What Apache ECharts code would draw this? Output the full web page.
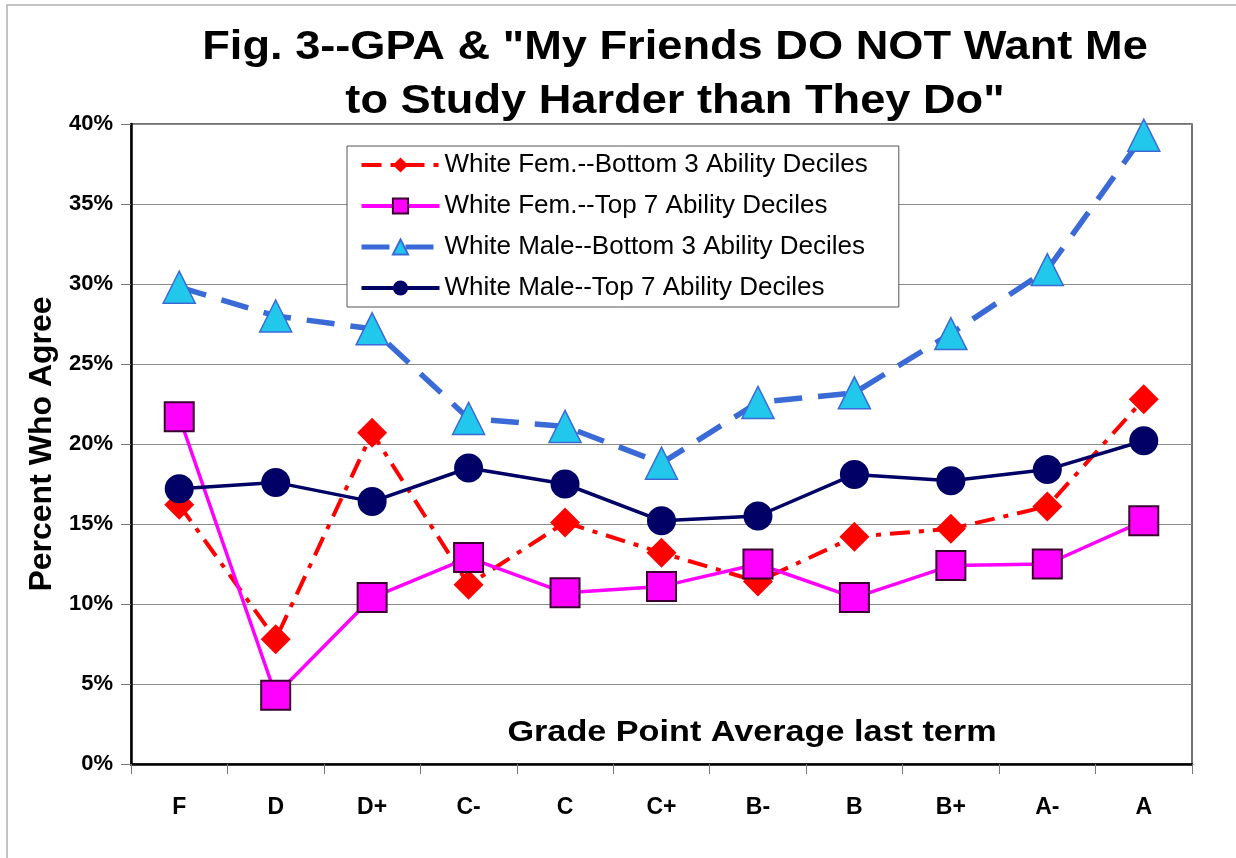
<!DOCTYPE html>
<html>
<head>
<meta charset="utf-8">
<script src="https://cdn.jsdelivr.net/npm/echarts@6/dist/echarts.min.js"></script>
<style>
html,body{margin:0;padding:0;background:#fff;}
#chart{width:1236px;height:858px;}
</style>
</head>
<body>
<div id="chart"></div>
<script>
const categories = ['F','D','D+','C-','C','C+','B-','B','B+','A-','A'];
const seriesNames = [
  'White Fem.--Bottom 3 Ability Deciles',
  'White Fem.--Top 7 Ability Deciles',
  'White Male--Bottom 3 Ability Deciles',
  'White Male--Top 7 Ability Deciles'
];
const femBottom  = [16.2, 7.8, 20.7, 11.2, 15.1, 13.2, 11.4, 14.2, 14.7, 16.1, 22.8];
const femTop     = [21.7, 4.3, 10.4, 12.9, 10.7, 11.1, 12.5, 10.4, 12.4, 12.5, 15.2];
const maleBottom = [29.8, 28.0, 27.2, 21.6, 21.1, 18.8, 22.6, 23.2, 26.9, 30.9, 39.3];
const maleTop    = [17.2, 17.6, 16.4, 18.5, 17.5, 15.2, 15.5, 18.1, 17.7, 18.4, 20.2];
const titleLines = ['Fig. 3--GPA & "My Friends DO NOT Want Me', 'to Study Harder than They Do"'];
const yAxisTitle = 'Percent Who Agree';
const xAxisTitle = 'Grade Point Average last term';

const FONT = '"Liberation Sans", Arial, sans-serif';
const chart = echarts.init(document.getElementById('chart'));
chart.setOption({
  backgroundColor: '#fff',
  animation: false,
  textStyle: { fontFamily: FONT },
  graphic: [
    { type: 'rect', shape: { x: 7, y: 5, width: 1260, height: 900 }, style: { fill: 'none', stroke: '#b0b0b0', lineWidth: 1.5 }, z: -10 },
    { type: 'text', x: 675, y: 48, scaleX: 1.13, style: { text: titleLines[0], font: 'bold 40px ' + FONT, fill: '#000', align: 'center', verticalAlign: 'middle' } },
    { type: 'text', x: 675, y: 102, scaleX: 1.13, style: { text: titleLines[1], font: 'bold 40px ' + FONT, fill: '#000', align: 'center', verticalAlign: 'middle' } },
    { type: 'text', x: 752, y: 733, scaleX: 1.14, style: { text: xAxisTitle, font: 'bold 30px ' + FONT, fill: '#000', align: 'center', verticalAlign: 'middle' }, z: 5 }
  ],
  legend: {
    orient: 'vertical',
    left: 347, top: 146,
    padding: [6, 31, 6, 12],
    itemGap: 15,
    itemWidth: 78, itemHeight: 19,
    backgroundColor: '#fff',
    borderColor: '#555', borderWidth: 1,
    textStyle: { fontSize: 26, color: '#000', fontFamily: FONT, lineHeight: 26 },
    data: [
      { name: seriesNames[0], lineStyle: { width: 4 } },
      { name: seriesNames[1], lineStyle: { width: 4 } },
      { name: seriesNames[2], lineStyle: { width: 5 } },
      { name: seriesNames[3], lineStyle: { width: 4 } }
    ]
  },
  grid: {
    left: 131, right: 44, top: 124, bottom: 94,
    show: true, borderColor: '#444', borderWidth: 1.5,
    containLabel: false
  },
  xAxis: {
    type: 'category',
    data: categories,
    boundaryGap: true,
    axisLine: { lineStyle: { color: '#000', width: 2.5 } },
    axisTick: { show: true, alignWithLabel: false, length: 10, lineStyle: { color: '#777', width: 1 } },
    axisLabel: { fontSize: 23, fontWeight: 'bold', color: '#000', margin: 32, fontFamily: FONT },
    splitLine: { show: false }
  },
  yAxis: {
    type: 'value',
    min: 0, max: 40, interval: 5,
    name: yAxisTitle,
    nameLocation: 'middle',
    nameGap: 73,
    nameTextStyle: { fontSize: 32, fontWeight: 'bold', color: '#000', fontFamily: FONT },
    axisLine: { show: true, lineStyle: { color: '#000', width: 2.5 } },
    axisTick: { show: true, length: 10, lineStyle: { color: '#777', width: 1 } },
    axisLabel: { formatter: '{value}%', fontSize: 22, fontWeight: 'bold', color: '#000', margin: 18, fontFamily: FONT },
    splitLine: { show: true, lineStyle: { color: '#8a8a8a', width: 1.2 } }
  },
  series: [
    {
      name: seriesNames[0], type: 'line', data: femBottom,
      symbol: 'diamond', symbolSize: 30,
      lineStyle: { color: '#ff0000', width: 4, type: [20, 9, 5, 9] },
      itemStyle: { color: '#ff0000', borderColor: '#ff0000', borderWidth: 0 },
      z: 2
    },
    {
      name: seriesNames[1], type: 'line', data: femTop,
      symbol: 'rect', symbolSize: 29,
      lineStyle: { color: '#ff00ff', width: 3.5, type: 'solid' },
      itemStyle: { color: '#ff00ff', borderColor: '#3a0030', borderWidth: 2 },
      z: 3
    },
    {
      name: seriesNames[2], type: 'line', data: maleBottom,
      symbol: 'triangle', symbolSize: [32, 32],
      lineStyle: { color: '#3a6ad6', width: 5.5, type: [28, 16] },
      itemStyle: { color: '#22c8ec', borderColor: '#3a6ad6', borderWidth: 1.5 },
      z: 4
    },
    {
      name: seriesNames[3], type: 'line', data: maleTop,
      symbol: 'circle', symbolSize: 29,
      lineStyle: { color: '#000066', width: 3.5, type: 'solid' },
      itemStyle: { color: '#000066', borderColor: '#000066', borderWidth: 0 },
      z: 5
    }
  ]
});
</script>
</body>
</html>
